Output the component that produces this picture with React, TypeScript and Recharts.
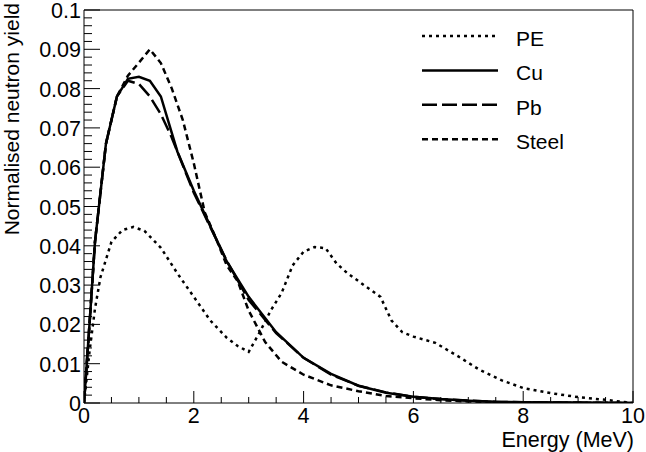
import React from 'react';
import { LineChart, Line, XAxis, YAxis, ReferenceLine } from 'recharts';

// energies (MeV) and normalised yields
const peE = [0, 0.1, 0.2, 0.3, 0.5, 0.7, 0.9, 1.1, 1.4, 1.7, 2.0, 2.3, 2.6, 2.8, 3.0, 3.2, 3.4, 3.6, 3.8, 4.0, 4.2, 4.4, 4.6, 4.8, 5.0, 5.2, 5.4, 5.6, 5.8, 6.0, 6.4, 6.8, 7.2, 7.6, 8.0, 8.5, 9.0, 9.5, 10];
const peY = [0, 0.013, 0.024, 0.032, 0.041, 0.044, 0.0448, 0.0438, 0.0395, 0.033, 0.027, 0.021, 0.0166, 0.0145, 0.013, 0.018, 0.0235, 0.028, 0.035, 0.0385, 0.0397, 0.0394, 0.0355, 0.033, 0.031, 0.029, 0.027, 0.021, 0.018, 0.0169, 0.0153, 0.012, 0.0085, 0.0058, 0.0038, 0.0025, 0.0015, 0.0008, 0];

const cuE = [0, 0.1, 0.2, 0.4, 0.6, 0.8, 1.0, 1.2, 1.4, 1.7, 2.0, 2.3, 2.6, 3.0, 3.5, 4.0, 4.5, 5.0, 5.5, 6.0, 6.5, 7.0, 7.5, 8.0, 9.0, 10];
const cuY = [0, 0.02, 0.041, 0.066, 0.078, 0.0825, 0.083, 0.082, 0.078, 0.064, 0.054, 0.045, 0.036, 0.027, 0.018, 0.0115, 0.0074, 0.0044, 0.0026, 0.0016, 0.001, 0.0006, 0.0003, 0.0002, 0.0001, 0];

const pbE = [0, 0.1, 0.2, 0.4, 0.6, 0.8, 1.0, 1.2, 1.4, 1.6, 1.8, 2.0, 2.3, 2.6, 3.0, 3.5, 4.0, 4.5, 5.0, 5.5, 6.0, 6.5, 7.0, 7.5, 8.0, 9.0, 10];
const pbY = [0, 0.02, 0.041, 0.066, 0.078, 0.082, 0.0812, 0.078, 0.0735, 0.0675, 0.0605, 0.0535, 0.0448, 0.0362, 0.0262, 0.0178, 0.0115, 0.0072, 0.0044, 0.0027, 0.0016, 0.001, 0.0006, 0.0003, 0.0002, 0.0001, 0];

const steelE = [0, 0.1, 0.2, 0.4, 0.6, 0.8, 1.0, 1.2, 1.4, 1.6, 1.8, 2.0, 2.2, 2.4, 2.6, 2.8, 3.0, 3.3, 3.6, 4.0, 4.5, 5.0, 5.5, 6.0, 6.5, 7.0, 8.0, 10];
const steelY = [0, 0.02, 0.041, 0.066, 0.078, 0.0833, 0.0866, 0.09, 0.0865, 0.08, 0.072, 0.061, 0.0485, 0.042, 0.035, 0.031, 0.0235, 0.0155, 0.0105, 0.0072, 0.0045, 0.003, 0.0018, 0.0012, 0.0007, 0.0004, 0.0001, 0];

const xMajor = [0, 2, 4, 6, 8, 10];
const xTicks = Array.from({ length: 21 }, (_, i) => i * 0.5);
const yTicks = Array.from({ length: 51 }, (_, i) => i * 0.002);

const legendItems = [
  { name: 'PE', dash: '3 4' },
  { name: 'Cu', dash: undefined },
  { name: 'Pb', dash: '15 5' },
  { name: 'Steel', dash: '6 4' },
];

const toPoints = (es: number[], ys: number[]) => es.map((e, i) => ({ e, v: ys[i] }));

const FONT = 'Liberation Sans, Arial, sans-serif';

const XTick = (props: any) => {
  const { x, y, payload } = props;
  const v = payload.value;
  const major = xMajor.some((m) => Math.abs(m - v) < 1e-6);
  return (
    <g>
      <line x1={x} x2={x} y1={y} y2={y - (major ? 12 : 6)} stroke="#000" />
      {major && (
        <text x={x} y={y + 20} textAnchor="middle" fontSize={21.5} fontFamily={FONT} fill="#000">
          {Math.round(v)}
        </text>
      )}
    </g>
  );
};

const YTick = (props: any) => {
  const { x, y, payload } = props;
  const v = payload.value;
  const major = Math.round(v * 1000) % 10 === 0;
  const label = v === 0 ? '0' : String(Math.round(v * 100) / 100);
  return (
    <g>
      <line x1={x} x2={x + (major ? 16 : 8)} y1={y} y2={y} stroke="#000" />
      {major && (
        <text x={x - 3} y={y + 8} textAnchor="end" fontSize={21.5} fontFamily={FONT} fill="#000">
          {label}
        </text>
      )}
    </g>
  );
};

export default function App() {
  return (
    <div style={{ position: 'absolute', left: 0, top: 0, width: 646, height: 452, background: '#fff' }}>
      <LineChart width={646} height={452} margin={{ top: 10, right: 13, left: 0, bottom: 0 }}>
        <XAxis
          type="number"
          dataKey="e"
          domain={[0, 10]}
          ticks={xTicks}
          tick={<XTick />}
          tickSize={0}
          tickMargin={0}
          tickLine={false}
          axisLine={{ stroke: '#000' }}
          height={49}
          interval={0}
          allowDataOverflow
        />
        <YAxis
          type="number"
          dataKey="v"
          domain={[0, 0.1]}
          ticks={yTicks}
          tick={<YTick />}
          tickSize={0}
          tickMargin={0}
          tickLine={false}
          axisLine={{ stroke: '#000' }}
          width={84}
          interval={0}
          allowDataOverflow
        />
        <ReferenceLine y={0.1} stroke="#000" />
        <ReferenceLine x={10} stroke="#000" />
        <Line data={toPoints(peE, peY)} dataKey="v" type="linear" stroke="#000" strokeWidth={2.5} strokeDasharray="3 4" dot={false} isAnimationActive={false} />
        <Line data={toPoints(steelE, steelY)} dataKey="v" type="linear" stroke="#000" strokeWidth={2.5} strokeDasharray="6 4" dot={false} isAnimationActive={false} />
        <Line data={toPoints(pbE, pbY)} dataKey="v" type="linear" stroke="#000" strokeWidth={2.5} strokeDasharray="15 5" dot={false} isAnimationActive={false} />
        <Line data={toPoints(cuE, cuY)} dataKey="v" type="linear" stroke="#000" strokeWidth={2.5} dot={false} isAnimationActive={false} />
      </LineChart>
      <svg width={646} height={452} style={{ position: 'absolute', left: 0, top: 0, pointerEvents: 'none' }}>
        {legendItems.map((item, i) => {
          const y = 36 + i * 34.4;
          return (
            <g key={item.name}>
              <line x1={422} x2={498} y1={y} y2={y} stroke="#000" strokeWidth={2.5} strokeDasharray={item.dash} />
              <text x={516} y={y + 10} fontSize={21} fontFamily={FONT} fill="#000">
                {item.name}
              </text>
            </g>
          );
        })}
        <text x={634} y={447} textAnchor="end" fontSize={21.5} fontFamily={FONT} fill="#000">
          Energy (MeV)
        </text>
        <text transform="translate(19, 3) rotate(-90)" textAnchor="end" fontSize={21} fontFamily={FONT} fill="#000">
          Normalised neutron yield
        </text>
      </svg>
    </div>
  );
}
